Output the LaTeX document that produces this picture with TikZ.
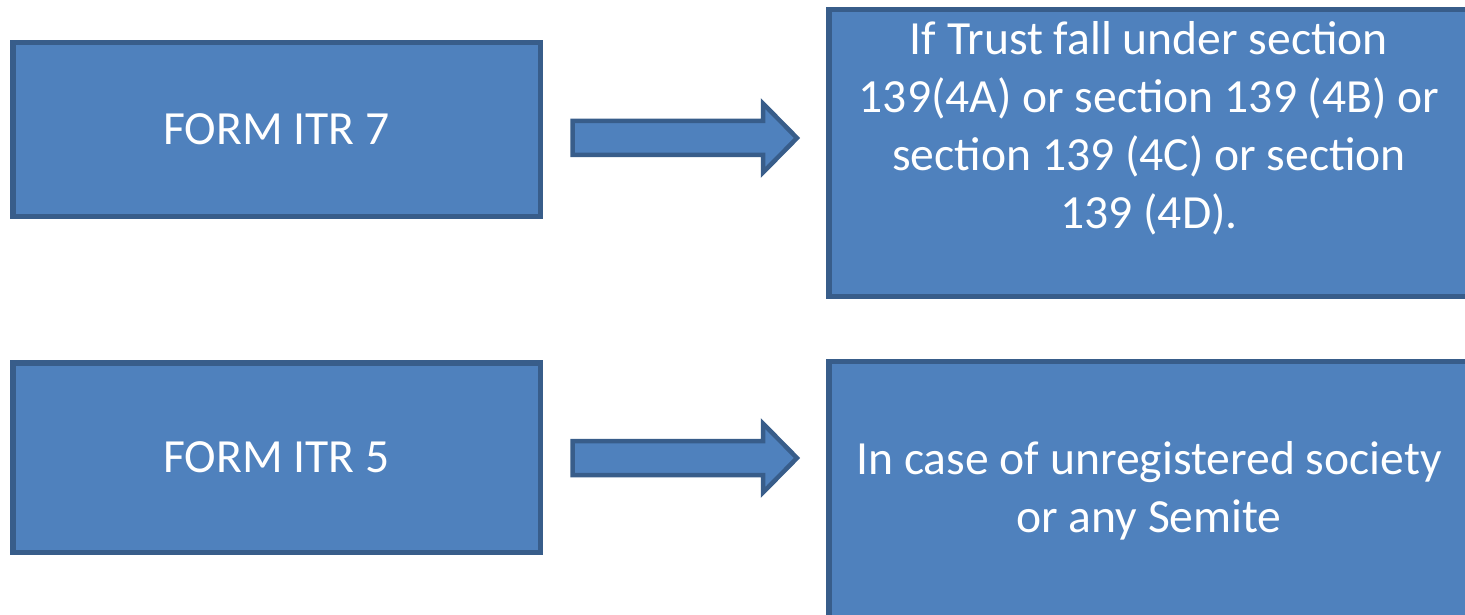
\documentclass[tikz,border=0pt]{standalone}
\usepackage{fontspec}
\setmainfont{Carlito}
\usepackage{tikz}
\usetikzlibrary{calc,positioning}
\definecolor{boxfill}{HTML}{4F81BD}
\definecolor{boxline}{HTML}{385D8A}
\definecolor{text}{HTML}{FFFFFF}
\tikzset{
  box/.style={draw=boxline, fill=boxfill, line width=5.5pt, inner sep=0pt},
  arrowbody/.style={draw=boxline, fill=boxfill, line width=4.5pt, line join=miter},
  lbl/.style={text=text, font=\fontsize{47.6}{58}\selectfont, align=center, inner sep=0pt}
}
\begin{document}
\begin{tikzpicture}[x=1pt,y=-1pt]
  \useasboundingbox (0,0) rectangle (1465,615);

  % left boxes
  \node[box, lbl, minimum width=527.5pt, minimum height=173.5pt] (itr7) at (276.5,129.5) {FORM ITR 7};
  \node[box, lbl, minimum width=527.5pt, minimum height=189.5pt] (itr5) at (276.5,457.5) {FORM ITR 5};

  % right boxes
  \node[box, minimum width=640.5pt, minimum height=286.5pt] (trust) at (1149,153) {};
  \node[box, minimum width=640.5pt, minimum height=275.5pt] (society) at (1149,499) {};

  % base = last line
  \node[lbl, anchor=base] (trusttxt) at (1149,228) {If Trust fall under section\\139(4A) or section 139 (4B) or\\section 139 (4C) or section\\139 (4D).};
  \node[lbl, anchor=base] (societytxt) at (1149,532) {In case of unregistered society\\or any Semite};

  % block arrows
  \coordinate (a1) at (572.5,121);
  \coordinate (a2) at (572.5,441);
  \draw[arrowbody] (a1) -- ++(190.5,0) -- ++(0,-17.5) -- ++(34,34.5) -- ++(-34,34.5)
    -- ++(0,-17.5) -- ++(-190.5,0) -- cycle;
  \draw[arrowbody] (a2) -- ++(190.5,0) -- ++(0,-17.5) -- ++(34,34.5) -- ++(-34,34.5)
    -- ++(0,-17.5) -- ++(-190.5,0) -- cycle;
\end{tikzpicture}
\end{document}
